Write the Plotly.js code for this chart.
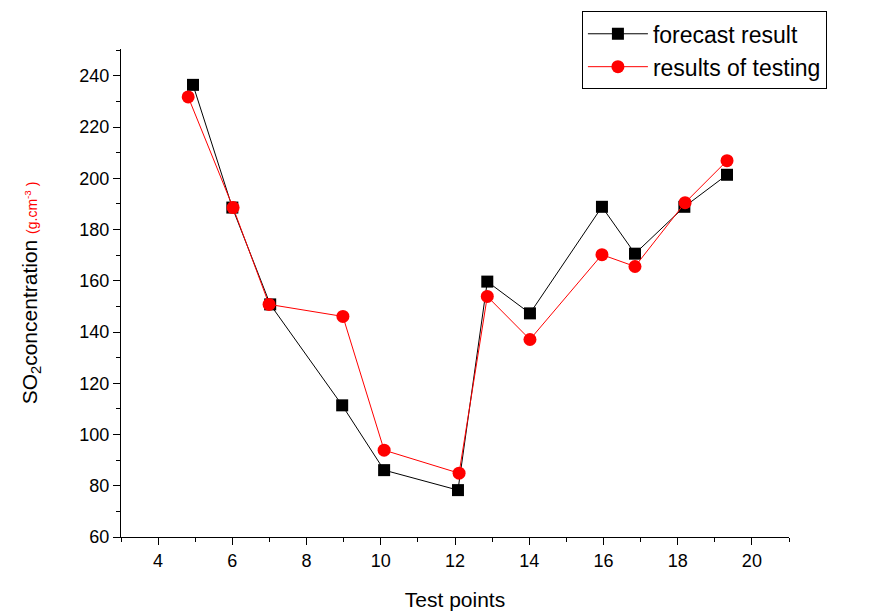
<!DOCTYPE html>
<html>
<head>
<meta charset="utf-8">
<script src="https://cdn.plot.ly/plotly-3.0.1.min.js"></script>
<style>html,body{margin:0;padding:0;background:#fff;}#chart{width:878px;height:611px;}</style>
</head>
<body>
<div id="chart"></div>
<script>
const forecastX = [4.94, 6.0, 7.02, 8.96, 10.09, 12.08, 12.87, 14.02, 15.96, 16.85, 18.18, 19.33];
const forecastY = [236.5, 188.6, 150.8, 111.4, 86.1, 78.3, 159.7, 147.3, 188.9, 170.6, 188.9, 201.4];
const testingX = [4.81, 6.02, 6.99, 8.98, 10.09, 12.11, 12.87, 14.02, 15.96, 16.85, 18.2, 19.33];
const testingY = [231.8, 188.6, 150.8, 146.1, 93.9, 84.9, 153.9, 137.1, 170.2, 165.6, 190.5, 206.9];
const xTickVals = [4, 6, 8, 10, 12, 14, 16, 18, 20];
const yTickVals = [60, 80, 100, 120, 140, 160, 180, 200, 220, 240];

const font = "Liberation Sans, Arial, sans-serif";
const traces = [
  {x: forecastX, y: forecastY, name: 'forecast result', mode: 'lines+markers', type: 'scatter',
   line: {color: '#000', width: 1}, marker: {symbol: 'square', size: 12, color: '#000'}},
  {x: testingX, y: testingY, name: 'results of testing', mode: 'lines+markers', type: 'scatter',
   line: {color: '#ff0000', width: 1}, marker: {symbol: 'circle', size: 13, color: '#ff0000'}}
];
const layout = {
  width: 878, height: 611,
  margin: {l: 121, r: 89, t: 48, b: 74},
  paper_bgcolor: '#fff', plot_bgcolor: '#fff',
  font: {family: font, color: '#000', size: 18},
  showlegend: true,
  legend: {x: 0.69, y: 1.075, xanchor: 'left', yanchor: 'top', bordercolor: '#000', borderwidth: 1,
           bgcolor: '#fff', font: {family: font, size: 23, color: '#000'}, itemwidth: 60, tracegroupgap: 0},
  xaxis: {range: [3, 21], tickvals: xTickVals, ticks: 'outside', ticklen: 7, tickwidth: 1, tickcolor: '#000',
          showline: true, linecolor: '#000', linewidth: 1, showgrid: false, zeroline: false,
          minor: {dtick: 1, tick0: 3, ticks: 'outside', ticklen: 4, tickcolor: '#000', showgrid: false},
          tickfont: {size: 18}, title: {text: 'Test points', font: {size: 21}, standoff: 22}},
  yaxis: {range: [60, 250.5], tickvals: yTickVals, ticks: 'outside', ticklen: 7, tickwidth: 1, tickcolor: '#000',
          showline: true, linecolor: '#000', linewidth: 1, showgrid: false, zeroline: false,
          minor: {dtick: 10, tick0: 60, ticks: 'outside', ticklen: 4, tickcolor: '#000', showgrid: false},
          tickfont: {size: 18},
          title: {text: 'SO<sub>2</sub>concentration <span style="color:#ff0000;font-size:14px">(g.cm<sup>-3</sup> )</span>', font: {size: 21}, standoff: 36}}
};
Plotly.newPlot('chart', traces, layout, {displayModeBar: false, staticPlot: true});
</script>
</body>
</html>
